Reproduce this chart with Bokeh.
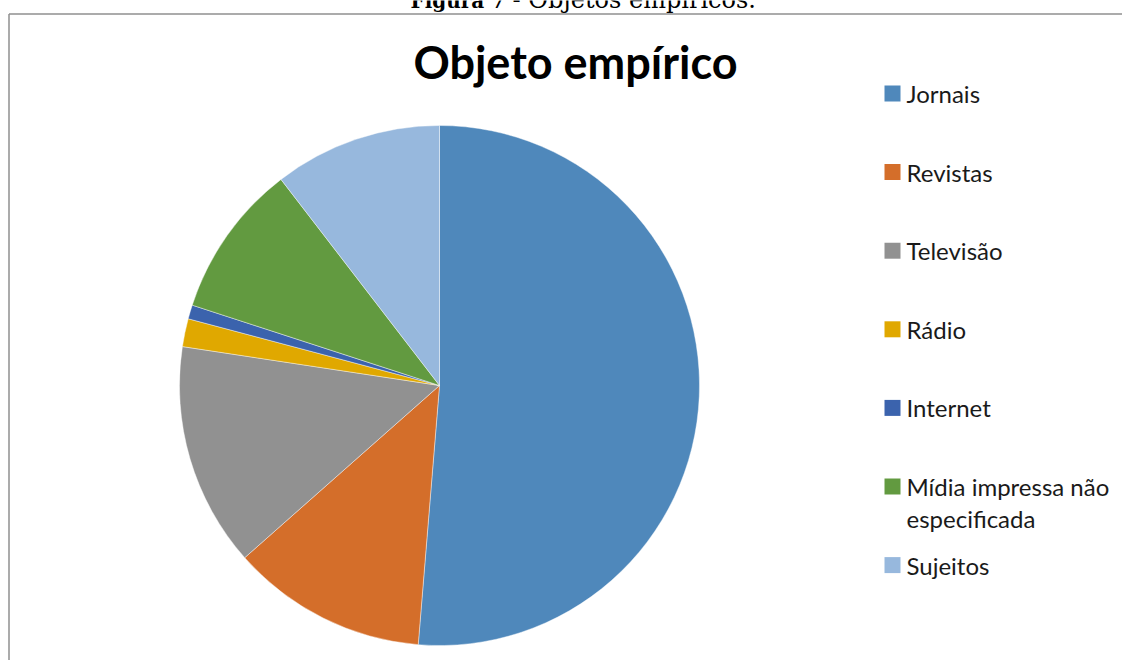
import math
from bokeh.plotting import figure
from bokeh.models import Range1d, ColumnDataSource
from bokeh.core.properties import value
from bokeh.embed import file_html
from bokeh.resources import INLINE

# ---- data ----
categories = ["Jornais", "Revistas", "Televisão", "Rádio", "Internet",
              "Mídia impressa não especificada", "Sujeitos"]
legend_lines = [["Jornais"], ["Revistas"], ["Televisão"], ["Rádio"], ["Internet"],
                ["Mídia impressa não", "especificada"], ["Sujeitos"]]
counts = [59, 14, 16, 2, 1, 11, 12]
colors = ["#4F88BB", "#D46E2A", "#919191", "#E0A800", "#3B63AD", "#629A40", "#97B8DD"]
title_text = "Objeto empírico"
caption_bold = "Figura 7"
caption_rest = "- Objetos empíricos."

W, H = 1122, 660

def px(x):  # picture x -> data x
    return x

def py(y):  # picture y -> data y
    return H - y

p = figure(width=W, height=H, output_backend="svg", toolbar_location=None,
           x_range=Range1d(0, W), y_range=Range1d(0, H), min_border=0)
p.axis.visible = False
p.grid.visible = False
p.outline_line_color = None
p.background_fill_color = "white"
p.border_fill_color = "white"

# frame border (gray box, open on right / bottom beyond window)
p.segment(x0=[px(8.5), px(8.5)], y0=[py(13.5), py(13.5)],
          x1=[px(8.5), px(1200)], y1=[py(720), py(13.5)],
          line_color="#8F8F8F", line_width=1.5)

# caption (cut off at top of page, as in the source)
p.text(x=[px(410)], y=[py(0.5)], text=[caption_bold], text_font=value("DejaVu Serif"),
       text_font_style="bold", text_font_size="20px", text_color="black",
       text_align="left", text_baseline="middle", y_offset=0)
p.text(x=[px(512)], y=[py(0.5)], text=[caption_rest], text_font=value("DejaVu Serif"),
       text_font_size="24px", text_color="black",
       text_align="left", text_baseline="middle", y_offset=-1)

# pie
total = float(sum(counts))
starts, ends = [], []
cum = 0.0
for c in counts:
    starts.append(math.pi / 2 - 2 * math.pi * cum / total)
    cum += c
    ends.append(math.pi / 2 - 2 * math.pi * cum / total)

src = ColumnDataSource(dict(start=starts, end=ends, color=colors, cat=categories))
p.wedge(x=px(439), y=py(385), radius=260, radius_units="screen",
        start_angle="start", end_angle="end", direction="clock",
        fill_color="color", line_color="white", line_width=0.6, line_alpha=0.7,
        source=src)

# title
p.text(x=[px(575)], y=[py(61)], text=[title_text], text_font=value("Lato"),
       text_font_style="bold", text_font_size="45px", text_color="black",
       text_align="center", text_baseline="middle")

# legend
leg_top = 93
leg_step = 78.6
sq_x, sq_y, tx, ty, tt = [], [], [], [], []
for i, lines in enumerate(legend_lines):
    yc = leg_top + i * leg_step
    sq_x.append(px(892))
    sq_y.append(py(yc))
    for j, ln in enumerate(lines):
        tx.append(px(906))
        ty.append(py(yc + j * 32))
        tt.append(ln)
p.rect(x=sq_x, y=sq_y, width=16, height=16, width_units="screen", height_units="screen",
       fill_color=colors, line_color=None)
p.text(x=tx, y=ty, text=tt, text_font=value("Lato"), text_font_size="24px",
       text_color="#1a1a1a", text_align="left", text_baseline="middle")

open("out.html", "w").write(file_html(p, INLINE))
